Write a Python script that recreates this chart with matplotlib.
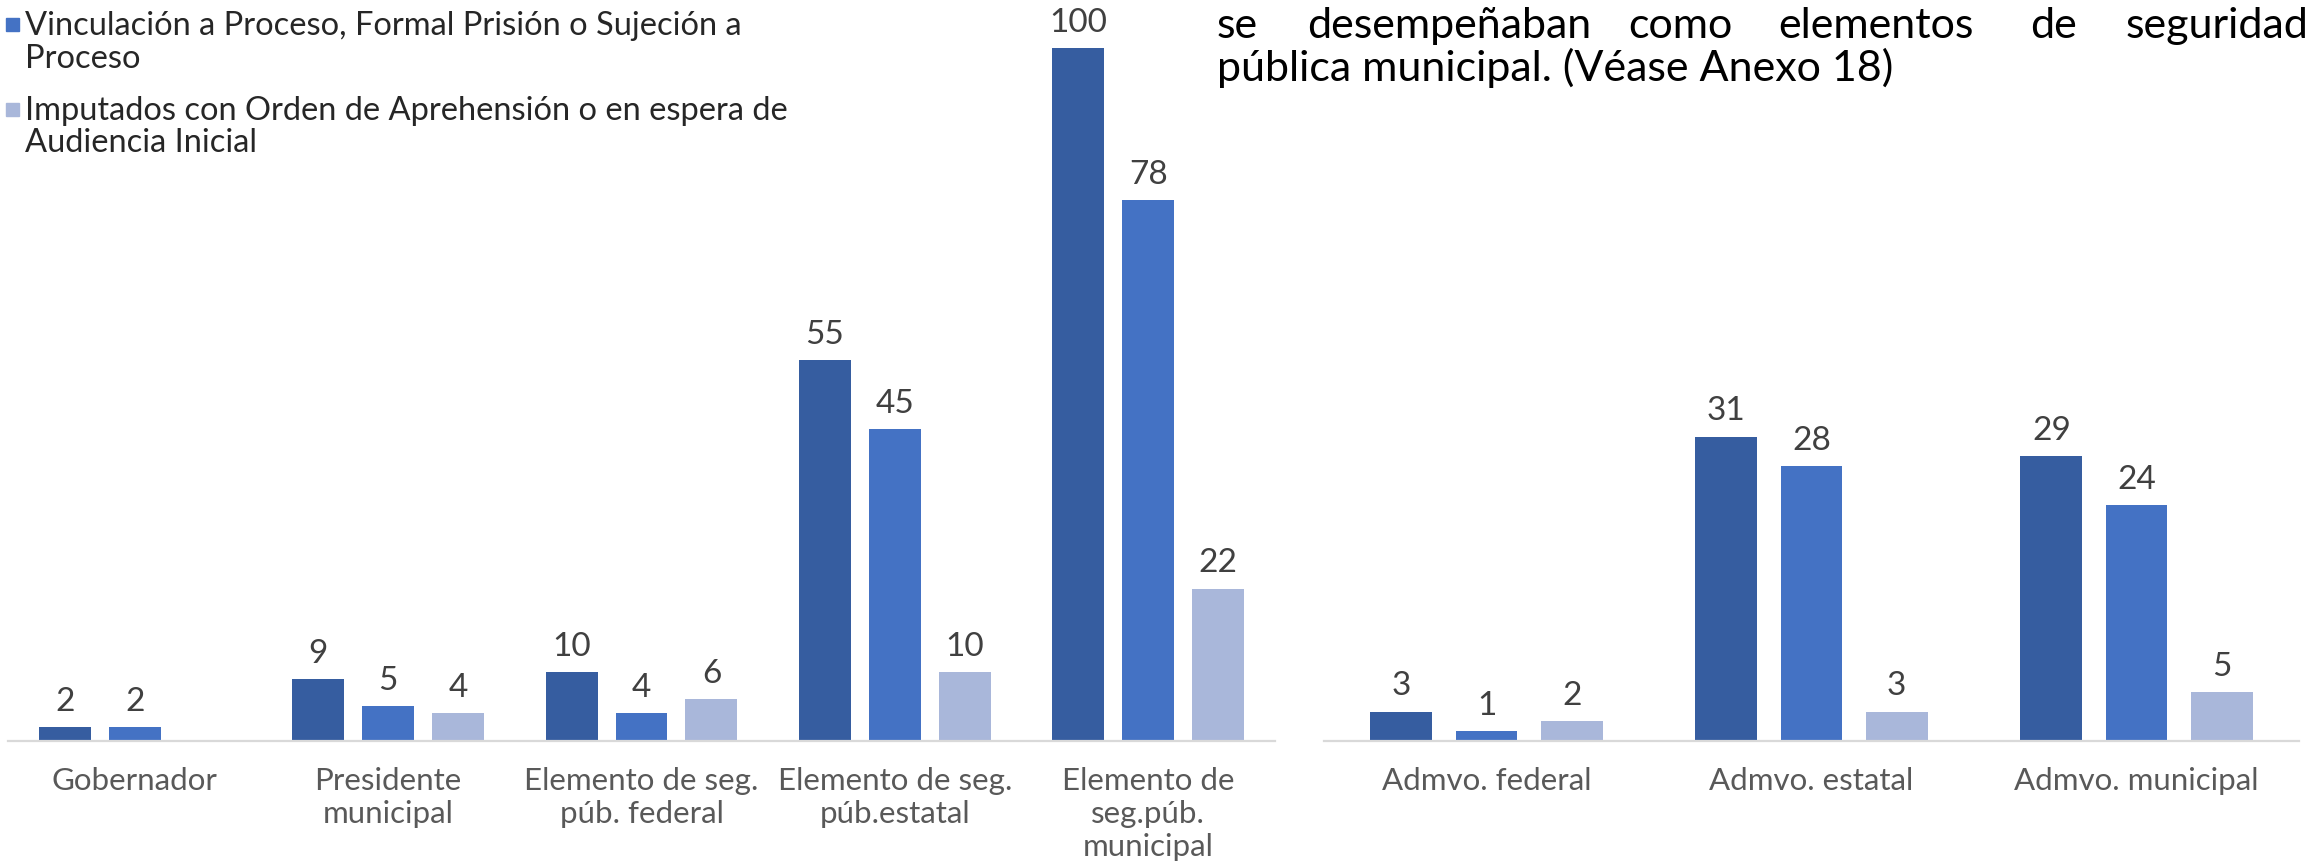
import matplotlib
matplotlib.use("Agg")
import matplotlib.pyplot as plt
from matplotlib.patches import Rectangle
import numpy as np

plt.rcParams['font.family'] = ['Lato', 'DejaVu Sans']

# left chart: cargos de elección / seguridad pública
cats_left = ["Gobernador", "Presidente\nmunicipal", "Elemento de seg.\npúb. federal",
             "Elemento de seg.\npúb.estatal", "Elemento de\nseg.púb.\nmunicipal"]
serie1_left = [2, 9, 10, 55, 100]
serie2_left = [2, 5, 4, 45, 78]
serie3_left = [None, 4, 6, 10, 22]

# right chart: administrativos
cats_right = ["Admvo. federal", "Admvo. estatal", "Admvo. municipal"]
serie1_right = [3, 31, 29]
serie2_right = [1, 28, 24]
serie3_right = [2, 3, 5]

legend_lines = [["Vinculación a Proceso, Formal Prisión o Sujeción a", "Proceso"],
                ["Imputados con Orden de Aprehensión o en espera de", "Audiencia Inicial"]]

colors = ["#365DA0", "#4472C4", "#A9B7DA"]
W, H = 2315, 862

fig = plt.figure(figsize=(W / 100, H / 100), dpi=100)


def bar_chart(ax, cats, series, width, step, ymax):
    x = np.arange(len(cats))
    for i, vals in enumerate(series):
        for xi, v in zip(x, vals):
            if v is None:
                continue
            ax.bar(xi + (i - 1) * step, v, width, color=colors[i], zorder=2)
            ax.annotate(str(v), (xi + (i - 1) * step, v), xytext=(0, 8),
                        textcoords="offset points", ha="center", va="bottom",
                        fontsize=24, color="#404040",
                        annotation_clip=False)
    ax.set_xlim(-0.5, len(cats) - 0.5)
    ax.set_ylim(0, ymax)
    ax.set_xticks(x)
    ax.set_xticklabels(cats, fontsize=22.5, color="#595959", linespacing=1.22)
    ax.tick_params(axis="x", length=0, pad=18)
    ax.set_yticks([])
    for s in ["top", "left", "right"]:
        ax.spines[s].set_visible(False)
    ax.spines["bottom"].set_color("#D9D9D9")
    ax.spines["bottom"].set_linewidth(1.6)
    ax.set_facecolor("none")


ax1 = fig.add_axes([8 / W, 120 / H, 1267 / W, 693 / H])
bar_chart(ax1, cats_left, [serie1_left, serie2_left, serie3_left], 0.205, 0.276, 100)

ax2 = fig.add_axes([1324 / W, 120 / H, 975 / W, 693 / H])
bar_chart(ax2, cats_right, [serie1_right, serie2_right, serie3_right], 0.19, 0.262, 693 / 9.82)

# legend (only the two visible entries), one text per line
leg_base = [(35, 68), (120, 152)]
for lines, col, ys in zip(legend_lines, colors[1:], leg_base):
    fig.patches.append(Rectangle((6 / W, 1 - (ys[0] - 3) / H), 13 / W, 13 / H,
                                 transform=fig.transFigure, color=col))
    for line, y in zip(lines, ys):
        fig.text(25 / W, 1 - y / H, line, fontsize=23.5, color="#262626",
                 va="baseline", ha="left")

# body text from the page, justified first line
words = ["se", "desempeñaban", "como", "elementos", "de", "seguridad"]
word_x = [1217, 1307, 1628, 1778, 2030, 2126]
for w, xw in zip(words, word_x):
    fig.text(xw / W, 1 - 38 / H, w, fontsize=31, color="black", va="baseline")
fig.text(1217 / W, 1 - 81 / H, "pública municipal. (Véase Anexo 18)",
         fontsize=31, color="black", va="baseline")

fig.savefig("out.png", dpi=100)
